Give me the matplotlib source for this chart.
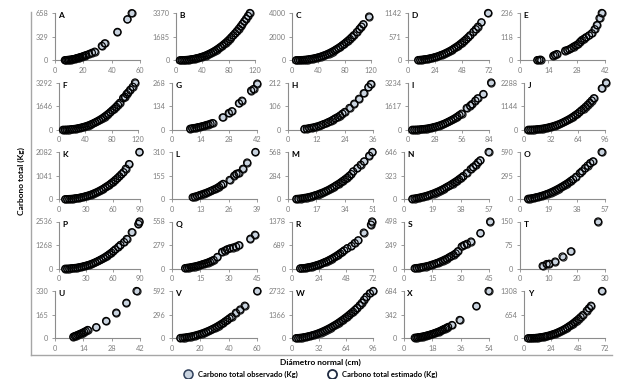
import matplotlib
matplotlib.use("Agg")
import matplotlib.pyplot as plt
from matplotlib.lines import Line2D

plt.rcParams['font.family'] = ['Lato', 'DejaVu Sans']

# ---- data: diametro (cm) / carbono (Kg) per panel ----
a_x = [7, 8, 9, 10, 11, 12, 13, 14, 15, 16, 17, 18, 19, 20, 21, 22, 24, 26, 28, 33, 35, 44, 51, 54]
a_y = [2, 3, 5, 7, 9, 12, 15, 20, 26, 32, 38, 44, 50, 56, 64, 72, 88, 104, 120, 200, 235, 395, 570, 655]

b_x = [5.6, 8.4, 11.2, 14, 16.8, 19.6, 22.4, 25.2, 28, 30.8, 33.6, 36.4, 39.2, 42, 44.8, 47.6, 50.4, 53.2, 56, 58.8,
       61.6, 64.4, 67.2, 70, 72.8, 75.6, 78.4, 81.2, 84, 86.8, 89.6, 92.4, 95.2, 98, 100.8, 103.6, 106.4, 109.2, 112]
b_y = [2, 5, 11, 19, 29, 43, 60, 81, 105, 134, 166, 203, 244, 290, 341, 397, 458, 524, 596, 673,
       756, 845, 940, 1041, 1148, 1261, 1382, 1508, 1641, 1782, 1929, 2083, 2245, 2414, 2590, 2773, 2964, 3163, 3370]

c_x = [5.9, 8.8, 11.7, 14.6, 17.6, 20.5, 23.4, 26.3, 29.3, 32.2, 35.1, 38, 41, 43.9, 46.8, 49.7, 52.7, 55.6, 58.5, 61.4,
       64.4, 67.3, 70.2, 73.1, 76.1, 79, 81.9, 84.8, 87.8, 90.7, 93.6, 98.3, 102.4, 105.3, 108.2, 117]
c_y = [2, 6, 12, 20, 32, 47, 66, 89, 116, 147, 182, 223, 268, 319, 374, 436, 503, 575, 654, 739,
       830, 928, 1032, 1143, 1260, 1385, 1517, 1656, 1802, 1957, 2118, 2393, 2650, 2843, 3045, 3700]

d_x = [8.9, 10.7, 12.4, 14.2, 16, 17.8, 19.5, 21.3, 23.1, 24.9, 26.6, 28.4, 30.2, 32, 33.7, 35.5, 37.3, 39.1, 40.8, 42.6,
       44.4, 46.2, 47.9, 49.7, 51.5, 53.3, 55, 58, 60, 62, 65, 71]
d_y = [6, 10, 15, 20, 27, 36, 45, 56, 69, 83, 98, 116, 135, 155, 178, 202, 228, 256, 286, 319,
       353, 389, 428, 468, 511, 556, 604, 689, 749, 813, 915, 1142]

e_x = [8.6, 9.5, 10.2, 16.5, 17.3, 18.2, 22.3, 23.4, 24.4, 25.4, 26.4, 27.5, 28.6, 29.6, 30.5, 31.6, 32.6, 34, 35.4,
       36.8, 37.9, 39.2, 40.3]
e_y = [1, 2, 3, 23, 27, 31, 48, 51, 55, 61, 68, 74, 81, 92, 101, 108, 115, 124, 135, 155, 176, 210, 236]

f_x = [5.8, 8.7, 11.5, 14.4, 17.3, 20.2, 23.1, 26, 28.9, 31.7, 34.6, 37.5, 40.4, 43.3, 46.2, 49, 51.9, 54.8, 57.7, 60.6,
       63.5, 66.4, 69.2, 72.1, 75, 77.9, 80.8, 83.7, 86.6, 89.4, 92.3, 97.3, 100, 102.5, 105, 108, 111.9, 115.4]
f_y = [2, 5, 10, 18, 29, 42, 59, 79, 103, 131, 162, 198, 239, 283, 333, 388, 447, 512, 582, 657,
       738, 825, 918, 1017, 1121, 1232, 1350, 1474, 1603, 1741, 1884, 2213, 2301, 2490, 2600, 2790, 2995, 3292]

g_x = [9, 10, 11, 12, 13, 14, 15, 16, 17, 18, 19, 20, 25, 28, 29.5, 33, 34.5, 39, 40.2, 42]
g_y = [6, 8, 10, 12, 15, 17, 20, 23, 27, 30, 34, 38, 70, 95, 105, 150, 165, 222, 231, 262]

h_x = [7, 8, 9, 10, 11, 12, 13, 14, 15, 16, 17, 18, 19, 20, 21, 22, 23, 24, 26, 28, 30, 32, 34, 35]
h_y = [4, 5, 7, 9, 11, 14, 17, 21, 25, 29, 34, 39, 45, 51, 57, 64, 72, 80, 98, 117, 139, 164, 191, 205]

i_x = [4.3, 6.4, 8.5, 10.6, 12.8, 14.9, 17, 19.1, 21.3, 23.4, 25.5, 27.6, 29.8, 31.9, 34, 36.1, 38.3, 40.4, 42.5, 44.6,
       46.8, 48.9, 51, 53.1, 55.3, 60.7, 64.3, 66, 69.6, 72, 77.9, 86]
i_y = [2, 5, 10, 18, 28, 41, 58, 78, 101, 128, 159, 195, 235, 278, 327, 381, 439, 503, 572, 646,
       725, 811, 902, 999, 1102, 1495, 1651, 1750, 1991, 2150, 2446, 3234]

j_x = [4.9, 7.3, 9.7, 12.1, 14.6, 17, 19.4, 21.8, 24.3, 26.7, 29.1, 31.5, 34, 36.4, 38.8, 41.2, 43.7, 46.1, 48.5, 50.9,
       53.4, 55.8, 58.2, 60.6, 63.1, 65.5, 67.9, 70.3, 72.8, 75.2, 77.6, 80, 82.5, 92, 97]
j_y = [1, 4, 7, 13, 20, 29, 41, 55, 72, 91, 113, 138, 166, 197, 232, 270, 311, 356, 405, 457,
       513, 574, 638, 707, 779, 856, 938, 1024, 1114, 1210, 1310, 1414, 1524, 2002, 2288]

k_x = [6.7, 8.9, 11.2, 13.4, 15.6, 17.8, 20.1, 22.3, 24.5, 26.8, 29, 31.2, 33.5, 35.7, 37.9, 40.1, 42.4, 44.6, 46.8, 49.1,
       51.3, 53.5, 55.8, 58, 60.2, 62.4, 64.7, 66.9, 69.1, 71.4, 74, 77.6, 89.2]
k_y = [3, 7, 12, 18, 27, 37, 50, 65, 83, 103, 125, 151, 179, 211, 245, 283, 324, 368, 416, 467,
       522, 581, 643, 709, 779, 854, 932, 1014, 1101, 1192, 1350, 1550, 2082]

l_x = [9.5, 10.5, 11.5, 12.5, 13.5, 14.5, 15.5, 16.5, 17.5, 18.5, 19.5, 20.5, 21.5, 22.5, 23.4, 26.4, 28.5, 29.5, 30.5,
       32.5, 34.4, 38.2]
l_y = [13, 17, 21, 26, 31, 36, 41, 47, 53, 59, 66, 73, 82, 92, 101, 127, 155, 167, 171, 200, 241, 310]

m_x = [5.1, 6.3, 7.6, 8.8, 10.1, 11.4, 12.6, 13.9, 15.2, 16.4, 17.7, 18.9, 20.2, 21.5, 22.7, 24, 25.3, 26.5, 27.8, 29,
       30.3, 31.6, 32.8, 34.1, 35.4, 36.6, 37.9, 39, 41.5, 43.5, 45.5, 48.6, 50.5]
m_y = [4, 6, 9, 12, 17, 21, 27, 33, 40, 48, 56, 66, 76, 86, 98, 110, 124, 138, 153, 168,
       185, 202, 220, 239, 259, 280, 302, 334, 375, 415, 454, 523, 568]

n_x = [5.7, 7.1, 8.5, 9.9, 11.3, 12.7, 14.2, 15.6, 17, 18.4, 19.8, 21.2, 22.6, 24.1, 25.5, 26.9, 28.3, 29.7, 31.1, 32.5,
       34, 35.4, 36.8, 38.2, 39.6, 42, 44.6, 46.2, 48, 49.5, 51, 56.6]
n_y = [6, 10, 15, 20, 26, 33, 40, 49, 58, 68, 79, 91, 103, 117, 131, 146, 162, 178, 195, 214,
       233, 252, 273, 294, 317, 360, 412, 440, 470, 505, 531, 646]

o_x = [5.5, 6.8, 8.2, 9.6, 10.9, 12.3, 13.7, 15, 16.4, 17.7, 19.1, 20.5, 21.8, 23.2, 24.6, 25.9, 27.3, 28.7, 30, 31.4,
       32.8, 34.1, 35.5, 37.5, 40, 41.5, 43.5, 45.2, 47, 48.8, 54.6]
o_y = [6, 9, 13, 18, 24, 30, 37, 45, 53, 62, 72, 83, 94, 107, 120, 133, 148, 163, 179, 195,
       212, 231, 249, 280, 326, 350, 389, 420, 452, 472, 590]

p_x = [6.7, 8.9, 11.2, 13.4, 15.6, 17.8, 20.1, 22.3, 24.5, 26.8, 29, 31.2, 33.5, 35.7, 37.9, 40.1, 42.4, 44.6, 46.8, 49.1,
       51.3, 53.5, 55.8, 58, 60.2, 62.4, 65.6, 68, 72, 75, 80.6, 88.1, 89.2]
p_y = [4, 8, 14, 22, 33, 45, 61, 79, 101, 125, 153, 184, 218, 257, 299, 344, 394, 448, 506, 569,
       636, 707, 783, 864, 949, 1040, 1171, 1280, 1433, 1600, 1958, 2400, 2536]

q_x = [7, 8, 9, 10, 11, 12, 13, 14, 15, 16, 17, 18, 19, 20, 21, 22, 24, 26.5, 28, 29.1, 30.5, 32.3, 33.8, 35.3, 41.4, 43.8]
q_y = [8, 11, 14, 18, 22, 27, 32, 38, 44, 51, 58, 66, 74, 83, 93, 104, 140, 200, 215, 228, 240, 251, 262, 277, 355, 401]

r_x = [7.1, 8.9, 10.7, 12.4, 14.2, 16, 17.8, 19.5, 21.3, 23.1, 24.9, 26.6, 28.4, 30.2, 32, 33.7, 35.5, 37.3, 39.1, 40.8,
       42.6, 44.4, 46.2, 49, 52.7, 55.5, 58.6, 63.6, 70, 71]
r_y = [9, 14, 21, 30, 40, 52, 65, 81, 97, 116, 137, 159, 184, 210, 238, 268, 300, 334, 370, 408,
       448, 490, 534, 600, 665, 750, 827, 1055, 1284, 1378]

s_x = [5.7, 6.8, 8, 9.1, 10.2, 11.4, 12.5, 13.7, 14.8, 15.9, 17.1, 18.2, 19.3, 20.5, 21.6, 22.8, 23.9, 25, 26.2, 27.3,
       28.5, 30.5, 31.8, 33.2, 35.4, 40.4, 45.5]
s_y = [5, 8, 11, 14, 19, 24, 29, 35, 42, 50, 58, 66, 76, 86, 97, 108, 121, 134, 147, 162,
       185, 235, 250, 263, 287, 376, 498]

t_x = [8, 9.4, 10.3, 12.4, 15, 17.9, 27.5]
t_y = [9, 15, 16, 23, 39, 55, 150]

u_x = [9.1, 9.8, 10.5, 11.2, 12, 12.8, 13.6, 14.4, 15.2, 16.1, 20.3, 25.2, 30.2, 35.2, 40.2]
u_y = [11, 15, 19, 23, 28, 33, 38, 44, 50, 58, 77, 121, 179, 248, 330]

v_x = [6, 7.5, 9, 10.5, 12, 13.5, 15, 16.5, 18, 19.5, 21, 22.5, 24, 25.5, 27, 28.5, 30, 31.5, 33, 34.5,
       36, 37.5, 39, 40.5, 42, 45, 48, 51.2, 60]
v_y = [4, 6, 9, 13, 17, 22, 28, 35, 42, 50, 59, 68, 79, 90, 102, 115, 129, 143, 159, 175,
       192, 211, 230, 249, 270, 320, 360, 408, 592]

w_x = [4.8, 7.2, 9.6, 12, 14.4, 16.8, 19.2, 21.6, 24, 26.4, 28.8, 31.2, 33.6, 36, 38.4, 40.8, 43.2, 45.6, 48, 50.4,
       52.8, 55.2, 57.6, 60, 62.4, 64.8, 67.2, 69.6, 72, 74.4, 76.8, 79.9, 82.5, 85.2, 88, 92, 96]
w_y = [7, 15, 27, 43, 62, 84, 109, 138, 171, 207, 246, 289, 335, 384, 437, 494, 553, 616, 683, 753,
       826, 903, 984, 1067, 1154, 1245, 1339, 1436, 1537, 1641, 1749, 1906, 2050, 2230, 2400, 2598, 2732]

x_x = [6.9, 8, 9, 10, 11, 12, 13, 14, 15, 16, 17, 18, 19, 20, 21, 22, 23, 24, 25, 26, 27, 28, 30.4, 35.3, 45.9, 53.6]
x_y = [8, 10, 14, 17, 21, 25, 30, 36, 42, 48, 55, 62, 70, 78, 87, 96, 106, 117, 128, 139, 151, 164, 192, 265, 467, 684]

y_x = [3.5, 5.2, 6.9, 8.6, 10.4, 12.1, 13.8, 15.5, 17.3, 19, 20.7, 22.5, 24.2, 25.9, 27.6, 29.4, 31.1, 32.8, 34.6, 36.3,
       38, 39.7, 41.5, 43.2, 44.9, 46.6, 48.4, 50.1, 52.1, 55.6, 57.5, 59.4, 69.1]
y_y = [1, 2, 4, 7, 11, 17, 23, 31, 41, 52, 65, 79, 95, 113, 132, 154, 178, 203, 231, 261,
       293, 328, 365, 404, 446, 490, 536, 586, 644, 763, 830, 901, 1308]

letters = list("ABCDEFGHIJKLMNOPQRSTUVWXY")
y_tops = [658, 3370, 4000, 1142, 236, 3292, 268, 212, 3234, 2288, 2082, 310, 568, 646, 590,
          2536, 558, 1378, 498, 150, 330, 592, 2732, 684, 1308]
x_tops = [60, 120, 120, 72, 42, 120, 42, 36, 84, 96, 90, 39, 51, 57, 57,
          90, 45, 72, 45, 30, 42, 60, 96, 54, 72]
xs = [a_x, b_x, c_x, d_x, e_x, f_x, g_x, h_x, i_x, j_x, k_x, l_x, m_x, n_x, o_x,
      p_x, q_x, r_x, s_x, t_x, u_x, v_x, w_x, x_x, y_x]
ys = [a_y, b_y, c_y, d_y, e_y, f_y, g_y, h_y, i_y, j_y, k_y, l_y, m_y, n_y, o_y,
      p_y, q_y, r_y, s_y, t_y, u_y, v_y, w_y, x_y, y_y]

W, H = 624, 379
fig = plt.figure(figsize=(W / 100, H / 100), dpi=100)

grey = '#8c8c8c'
obs_fc = '#c9d3df'
col_left = [33, 150, 266, 382, 498]
col_w = 111.5

for k in range(25):
    row, col = divmod(k, 5)
    left = col_left[col] + 9 + 4.3 * len(str(y_tops[k]))
    right = col_left[col] + col_w - 2.15 * len(str(x_tops[k]))
    zero = 60.3 + 69.5 * row
    ax = fig.add_axes([left / W, 1 - zero / H, (right - left) / W, 47.3 / H])
    ax.scatter(xs[k], ys[k], s=26, facecolor=obs_fc, edgecolor='#222222', linewidths=0.85, clip_on=False, zorder=3)
    ax.scatter(xs[k], ys[k], s=26, facecolor='none', edgecolor='black', linewidths=0.85, clip_on=False, zorder=4)
    ax.set_xlim(0, x_tops[k])
    ax.set_ylim(0, y_tops[k])
    ax.set_xticks([0, x_tops[k] / 3, 2 * x_tops[k] / 3, x_tops[k]])
    ax.set_xticklabels([str(round(v)) for v in ax.get_xticks()])
    ax.set_yticks([0, y_tops[k] / 2, y_tops[k]])
    ax.set_yticklabels([str(round(v)) for v in ax.get_yticks()])
    for s in ['top', 'right']:
        ax.spines[s].set_visible(False)
    for s in ['left', 'bottom']:
        ax.spines[s].set_color(grey)
        ax.spines[s].set_linewidth(0.8)
    ax.tick_params(direction='out', length=2.5, width=0.6, color=grey, labelsize=5.3,
                   labelcolor='#7f7f7f', pad=2.2)
    ax.set_facecolor('none')
    ax.annotate(letters[k], xy=(0, 1), xycoords='axes fraction', xytext=(2.5, 0.5),
                textcoords='offset points', ha='left', va='top', fontsize=6, fontweight='bold')

# outer frame (left and bottom)
fig.add_artist(Line2D([30.7 / W, 30.7 / W], [1 - 12 / H, 1 - 355 / H], color='#a6a6a6', lw=1))
fig.add_artist(Line2D([30.7 / W, 612 / W], [1 - 355 / H, 1 - 355 / H], color='#a6a6a6', lw=1))

fig.text(21.5 / W, 1 - 181 / H, 'Carbono total (Kg)', rotation=90, ha='center', va='center',
         fontsize=6, fontweight='bold')
fig.text(320 / W, 1 - 362.7 / H, 'Diámetro normal (cm)', ha='center', va='center',
         fontsize=6, fontweight='bold')

# legend drawn by hand
ly = 1 - 374.3 / H
fig.add_artist(Line2D([188 / W], [ly], ls='none', marker='o', ms=6.5, mfc=obs_fc, mec='#2f3f5a', mew=1.1))
fig.text(198 / W, ly, 'Carbono total observado (Kg)', ha='left', va='center', fontsize=5.5, fontweight='bold')
fig.add_artist(Line2D([332 / W], [ly], ls='none', marker='o', ms=6.5, mfc='white', mec='#1f2a40', mew=1.3))
fig.text(342 / W, ly, 'Carbono total estimado (Kg)', ha='left', va='center', fontsize=5.5, fontweight='bold')

fig.savefig('out.png', dpi=100, facecolor='white')
